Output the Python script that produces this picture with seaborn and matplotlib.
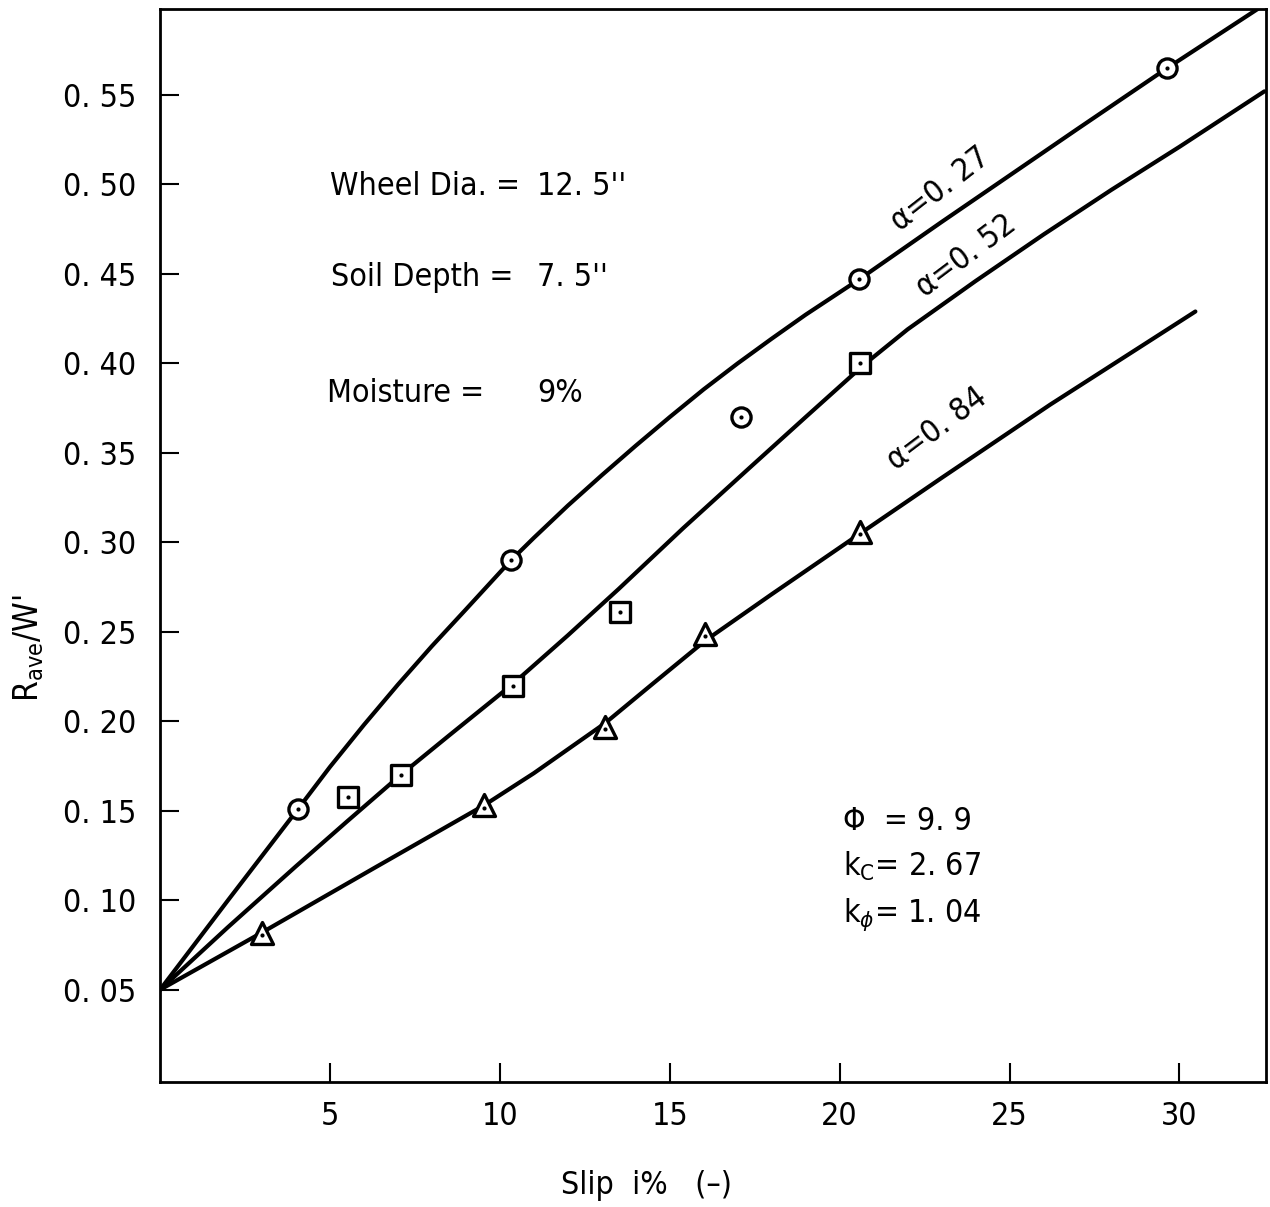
import matplotlib
matplotlib.use("Agg")
import matplotlib.pyplot as plt
import seaborn as sns
import pandas as pd

# ---------------- data ----------------
# measured points
circ_x = [4.06, 10.33, 17.10, 20.58, 29.64]
circ_y = [0.151, 0.290, 0.370, 0.447, 0.565]
sq_x = [5.53, 7.09, 10.39, 13.54, 20.61]
sq_y = [0.158, 0.170, 0.220, 0.261, 0.400]
tri_x = [3.00, 9.53, 13.10, 16.04, 20.61]
tri_y = [0.082, 0.153, 0.197, 0.249, 0.306]

# fitted curves
c27_x = [0, 2.0, 4.06, 5.0, 6.0, 7.0, 8.0, 9.0, 10.33, 11.0, 12.0, 13.0, 14.0, 15.0,
         16.0, 17.0, 18.0, 19.0, 20.58, 23.0, 25.0, 27.0, 29.64, 32.3]
c27_y = [0.05, 0.100, 0.151, 0.1745, 0.198, 0.2205, 0.242, 0.2625, 0.290, 0.3025, 0.3205,
         0.3375, 0.354, 0.370, 0.3855, 0.400, 0.4138, 0.4272, 0.447, 0.479, 0.505, 0.531,
         0.565, 0.598]
c52_x = [0, 2.0, 4.0, 5.5, 7.08, 8.5, 10.39, 12.0, 13.5, 15.4, 17.37, 19.0, 20.7,
         22.0, 24.0, 26.0, 28.0, 30.0, 32.5]
c52_y = [0.05, 0.085, 0.119, 0.144, 0.170, 0.192, 0.221, 0.248, 0.274, 0.308, 0.342,
         0.370, 0.399, 0.419, 0.446, 0.472, 0.497, 0.521, 0.552]
c84_x = [0, 3.0, 6.3, 9.53, 11.0, 13.1, 14.5, 16.04, 18.0, 20.61, 23.0, 26.2, 28.5, 30.47]
c84_y = [0.05, 0.082, 0.118, 0.153, 0.171, 0.199, 0.221, 0.245, 0.271, 0.305, 0.336,
         0.377, 0.405, 0.429]

x_ticks = [5, 10, 15, 20, 25, 30]
x_ticklabels = ["5", "10", "15", "20", "25", "30"]
y_ticks = [0.05, 0.10, 0.15, 0.20, 0.25, 0.30, 0.35, 0.40, 0.45, 0.50, 0.55]
y_ticklabels = ["0. 05", "0. 10", "0. 15", "0. 20", "0. 25", "0. 30",
                "0. 35", "0. 40", "0. 45", "0. 50", "0. 55"]

curve_labels = ["α=0. 27", "α=0. 52", "α=0. 84"]

# ---------------- style ----------------
sns.set_style("ticks")
plt.rcParams["font.family"] = ["DejaVu Sans"]
plt.rcParams["font.stretch"] = "condensed"
plt.rcParams["mathtext.fontset"] = "custom"
plt.rcParams["mathtext.rm"] = "DejaVu Sans:stretch=condensed"
plt.rcParams["mathtext.it"] = "DejaVu Sans:italic:stretch=condensed"
for k in ["text.color", "axes.labelcolor", "xtick.color", "ytick.color", "axes.edgecolor"]:
    plt.rcParams[k] = "black"

fig = plt.figure(figsize=(12.70, 12.07), dpi=100)
ax = fig.add_axes([0.126, 0.1036, 0.8709, 0.8889])

lw = 3.0
for cx, cy in [(c27_x, c27_y), (c52_x, c52_y), (c84_x, c84_y)]:
    df = pd.DataFrame({"x": cx, "y": cy})
    sns.lineplot(data=df, x="x", y="y", ax=ax, color="black", lw=lw,
                 sort=False, estimator=None, zorder=2)

mk = dict(facecolor="white", edgecolor="black", linewidth=2.4, zorder=3)
sns.scatterplot(x=circ_x, y=circ_y, marker="o", s=190, ax=ax, **mk)
sns.scatterplot(x=sq_x, y=sq_y, marker="s", s=190, ax=ax, **mk)
sns.scatterplot(x=tri_x, y=tri_y, marker="^", s=250, ax=ax, **mk)
# centre dots
dot = dict(color="black", s=9, linewidth=0, zorder=4)
sns.scatterplot(x=circ_x, y=circ_y, ax=ax, **dot)
sns.scatterplot(x=sq_x, y=sq_y, ax=ax, **dot)
sns.scatterplot(x=tri_x, y=[v - 0.0015 for v in tri_y], ax=ax, **dot)

ax.set_xlim(0, 32.55)
ax.set_ylim(-0.0015, 0.598)
ax.set_xticks(x_ticks)
ax.set_xticklabels(x_ticklabels)
ax.set_yticks(y_ticks)
ax.set_yticklabels(y_ticklabels)
ax.tick_params(direction="in", length=14, width=1.5, labelsize=23)
ax.tick_params(axis="y", pad=17)
ax.tick_params(axis="x", pad=14)
for s in ax.spines.values():
    s.set_linewidth(2.0)
    s.set_color("black")

ax.set_xlabel("Slip  i%   (–)", fontsize=23)
ax.set_ylabel(r"R$_{\mathrm{ave}}$/W'", fontsize=24)
ax.xaxis.set_label_coords(0.44, -0.082)
ax.yaxis.set_label_coords(-0.103, 0.404)

# annotations
fs = 23
ax.text(5.0, 0.4986, "Wheel Dia. =", fontsize=fs, va="center", ha="left")
ax.text(11.09, 0.4986, "12. 5''", fontsize=fs, va="center", ha="left")
ax.text(5.03, 0.448, "Soil Depth =", fontsize=fs, va="center", ha="left")
ax.text(11.09, 0.448, "7. 5''", fontsize=fs, va="center", ha="left")
ax.text(4.9, 0.383, "Moisture =", fontsize=fs, va="center", ha="left")
ax.text(11.09, 0.383, "9%", fontsize=fs, va="center", ha="left")

ax.text(20.1, 0.144, "Φ  = 9. 9", fontsize=fs, va="center", ha="left")
ax.text(20.1, 0.119, r"k$_{\mathrm{C}}$= 2. 67", fontsize=fs, va="center", ha="left")
ax.text(20.1, 0.092, r"k$_{\phi}$= 1. 04", fontsize=fs, va="center", ha="left")

ax.text(22.96, 0.497, curve_labels[0], fontsize=fs, rotation=38,
        ha="center", va="center", rotation_mode="anchor")
ax.text(23.73, 0.460, curve_labels[1], fontsize=fs, rotation=37,
        ha="center", va="center", rotation_mode="anchor")
ax.text(22.87, 0.363, curve_labels[2], fontsize=fs, rotation=37,
        ha="center", va="center", rotation_mode="anchor")

fig.savefig("out.png", dpi=100, facecolor="white")
